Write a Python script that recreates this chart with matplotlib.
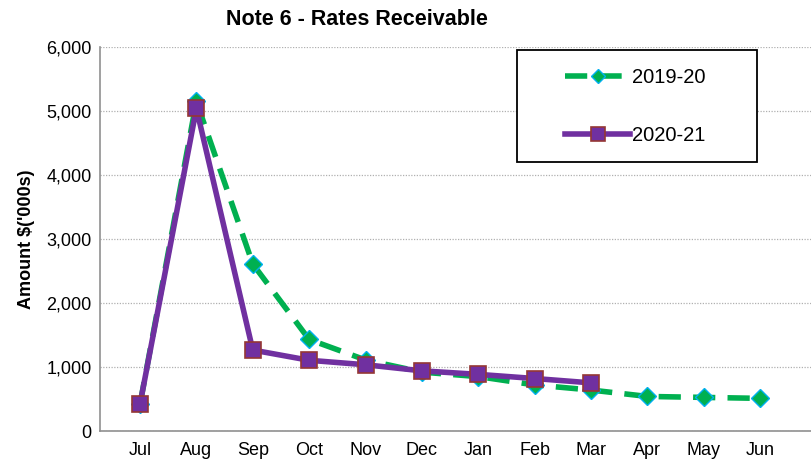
import matplotlib.pyplot as plt
from matplotlib.patches import Rectangle
from matplotlib.ticker import FuncFormatter

plt.rcParams['font.family'] = ['Liberation Sans', 'DejaVu Sans']

# ==============================
# Data
# ==============================
months = ["Jul", "Aug", "Sep", "Oct", "Nov", "Dec", "Jan", "Feb", "Mar", "Apr", "May", "Jun"]
fy2019 = [420, 5150, 2610, 1430, 1110, 920, 850, 720, 640, 540, 525, 510]
fy2020 = [420, 5040, 1265, 1105, 1035, 940, 885, 820, 752]

green = "#00B050"
purple = "#7030A0"

fig = plt.figure(figsize=(8.12, 4.74), dpi=100)
ax = fig.add_axes([100 / 812, 43 / 474, 712 / 812, 384 / 474])

x1 = list(range(len(fy2019)))
x2 = list(range(len(fy2020)))

ax.plot(x1, fy2019, color=green, lw=4, ls=(0, (4, 2.2)), marker="D", ms=9,
        mfc=green, mec="#00B0F0", mew=1, label="2019-20", zorder=3)
ax.plot(x2, fy2020, color=purple, lw=4, marker="s", ms=12,
        mfc=purple, mec="#953735", mew=1.2, label="2020-21", zorder=4)

ax.set_xlim(-0.71, 11.92)
ax.set_ylim(0, 6000)
ax.set_xticks(x1)
ax.set_xticklabels(months)
ax.set_yticks(range(0, 6001, 1000))
ax.yaxis.set_major_formatter(FuncFormatter(lambda v, p: f"{int(v):,}"))
ax.tick_params(axis="both", length=0, labelsize=13, pad=8)
ax.tick_params(axis="y", pad=6)

ax.grid(axis="y", color="#b0b0b0", ls=(0, (1, 1.2)), lw=0.9)
ax.set_axisbelow(True)
for s in ["top", "right"]:
    ax.spines[s].set_visible(False)
ax.spines["left"].set_color("#909090")
ax.spines["bottom"].set_color("#909090")
ax.spines["left"].set_linewidth(1.2)
ax.spines["bottom"].set_linewidth(1.2)

ax.set_ylabel("Amount $('000s)", fontsize=13, fontweight="bold", labelpad=8)
fig.text(0.44, 0.958, "Note 6 - Rates Receivable", ha="center", va="center",
         fontsize=15.5, fontweight="bold")

# legend box like the Excel one
ax.add_patch(Rectangle((0.586, 0.70), 0.337, 0.292, transform=ax.transAxes,
                       fill=True, facecolor="white", edgecolor="black", lw=1.3,
                       zorder=5, clip_on=False))
leg = ax.legend(loc="center", bbox_to_anchor=(0.752, 0.845),
                fontsize=14.5, frameon=False, markerscale=0.8,
                labelspacing=1.9, handlelength=3.2, handletextpad=0.1)
leg.set_zorder(6)

plt.savefig("out.png", dpi=100)
plt.close()
